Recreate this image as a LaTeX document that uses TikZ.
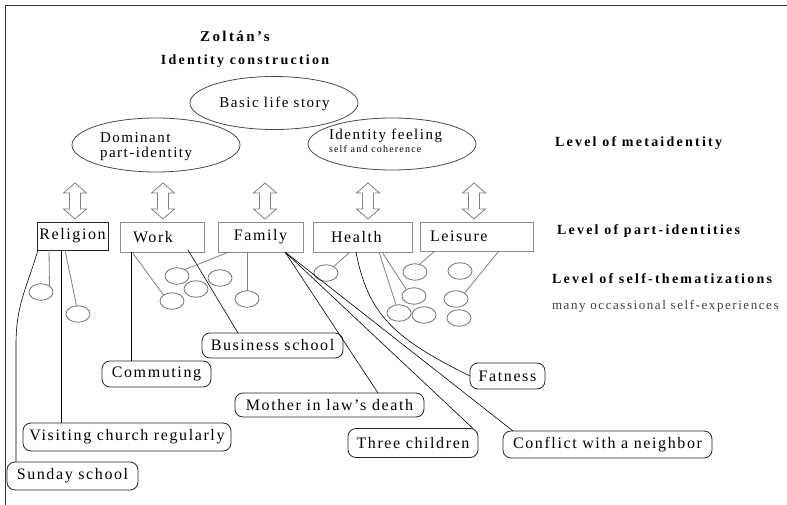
\documentclass[tikz,border=0pt]{standalone}
\usepackage{fontspec}
\setmainfont{Liberation Serif}
% letter-spaced serif faces for labels and headings
\newfontfamily\lblfont[LetterSpace=10]{Liberation Serif}
\newfontfamily\headfont[LetterSpace=16]{Liberation Serif}
\newfontfamily\notefont[LetterSpace=12]{Liberation Serif}
\usetikzlibrary{shapes.geometric}
\begin{document}
\begin{tikzpicture}[x=1pt,y=-1pt,
  every node/.style={inner sep=0pt, outer sep=0pt},
  heading/.style={font=\headfont\bfseries\fontsize{14}{16}\selectfont},
  ellfont/.style={font=\lblfont\fontsize{15}{17}\selectfont},
  metaell/.style={ellipse, draw=black!70, line width=0.8pt,
    minimum width=168pt, minimum height=54pt},
  pbox/.style={rectangle, draw=black!45, line width=0.8pt,
    minimum height=30pt, font=\lblfont\fontsize{16}{18}\selectfont},
  theme/.style={rectangle, rounded corners=8pt, draw=black!85, line width=0.8pt,
    minimum height=26pt, font=\lblfont\fontsize{16}{18}\selectfont},
  selfth/.style={ellipse, draw=black!55, line width=0.8pt,
    minimum width=24pt, minimum height=16.5pt},
  greyline/.style={draw=black!50, line width=0.8pt},
  link/.style={draw=black, line width=0.6pt},
  pics/dblarr/.style={code={
    \draw[draw=black!50, fill=white, line width=0.8pt, line join=miter]
      (0,-18) -- (11.5,-8) -- (5.5,-8) -- (5.5,8) -- (11.5,8) -- (0,18)
      -- (-11.5,8) -- (-5.5,8) -- (-5.5,-8) -- (-11.5,-8) -- cycle;}}
]
\useasboundingbox (0,0) rectangle (787,505);
\fill[white] (0,0) rectangle (787,505);

% frame edges
\draw[black!80, line width=1pt] (5,505) -- (5,6) -- (787,6);

% title
\node[heading, font=\headfont\bfseries\fontsize{15}{17}\selectfont, anchor=base] (ttl1) at (235,42) {Zoltán’s};
\node[heading, anchor=base] (ttl2) at (245,65) {Identity construction};

% level captions
\node[heading, anchor=base west] (lv1) at (555,147) {Level of metaidentity};
\node[heading, anchor=base west] (lv2) at (557,235) {Level of part-identities};
\node[heading, anchor=base west] (lv3) at (552,283) {Level of self-thematizations};
\node[font=\notefont\fontsize{13}{15}\selectfont, text=black!75, anchor=base west] (lv4) at (552,309) {many occassional self-experiences};

% meta-identity ellipses
\node[metaell, minimum height=53pt] (basic) at (274,103) {};
\node[ellfont, anchor=base] (basictxt) at (274.5,108) {Basic life story};
\node[metaell] (dom) at (156,145) {};
\node[ellfont, anchor=base west] (domtxt1) at (100,143) {Dominant};
\node[ellfont, anchor=base west] (domtxt2) at (100,158) {part-identity};
\node[metaell, minimum height=52pt] (idf) at (392,144) {};
\node[ellfont, anchor=base west] (idftxt1) at (329,140) {Identity feeling};
\node[font=\notefont\fontsize{10}{12}\selectfont, anchor=base west] (idftxt2) at (329,153) {self and coherence};

% double arrows between the levels
\pic at (75,201) {dblarr};
\pic at (163,201) {dblarr};
\pic at (265,201) {dblarr};
\pic at (368,201) {dblarr};
\pic at (474,201) {dblarr};

% part-identities
\node[pbox, draw=black!85, minimum width=71pt, minimum height=28pt] (relig) at (72.5,236) {Religion};
\node[pbox, text width=58pt, inner xsep=13pt, align=left] (work) at (162,237) {Work};
\node[pbox, minimum width=85pt] (fam) at (260.5,237) {Family};
\node[pbox, text width=63pt, inner xsep=18pt, align=left] (health) at (362.5,237) {Health};
\node[pbox, text width=93pt, inner xsep=10pt, align=left, minimum height=29pt] (leis) at (476.5,236.5) {Leisure};

% self-thematizations (small ellipses)
\node[selfth] (c1) at (41,292) {};
\node[selfth] (c2) at (78,314) {};
\node[selfth] (c3) at (172,301) {};
\node[selfth] (c4) at (177,276) {};
\node[selfth] (c5) at (196,289) {};
\node[selfth] (c6) at (220,278) {};
\node[selfth] (c7) at (247,299) {};
\node[selfth] (c8) at (326,273) {};
\node[selfth] (c9) at (399,313) {};
\node[selfth] (c10) at (414,296) {};
\node[selfth] (c11) at (424,315) {};
\node[selfth] (c12) at (415,272) {};
\node[selfth] (c13) at (460,271) {};
\node[selfth] (c14) at (456,299) {};
\node[selfth] (c15) at (459,318) {};

% named experiences
\node[theme, minimum width=131pt, minimum height=28pt] (sunday) at (72.5,476) {Sunday school};
\node[theme, minimum width=208pt, minimum height=28pt] (visit) at (127,437) {Visiting church regularly};
\node[theme, minimum width=109pt] (commut) at (156.5,374) {Commuting};
\node[theme, minimum width=141pt, minimum height=25pt] (busin) at (272.5,345.5) {Business school};
\node[theme, minimum width=189pt, minimum height=24pt] (mother) at (329.5,405) {Mother in law’s death};
\node[theme, minimum width=130pt, minimum height=29pt] (three) at (413,443) {Three children};
\node[theme, minimum width=209pt, minimum height=27pt] (conflict) at (607.5,444.5) {Conflict with a neighbor};
\node[theme, minimum width=75pt] (fatness) at (507.5,376) {Fatness};

\coordinate (sbend) at (16,345);

% Religion
\draw[greyline] ([xshift=12pt]relig.south west) -- (c1.north east);
\draw[greyline] ([xshift=28pt]relig.south west) -- (c2.100);
\draw[link] ([xshift=24pt]relig.south west) coordinate (r1) -- (r1 |- visit.north);
\draw[link] ([xshift=1pt]relig.south west) .. controls +(-12,40) and +(0,-40) .. (sbend) -- (sbend |- sunday.north);

% Work
\draw[link] ([xshift=11pt]work.south west) coordinate (w1) -- (w1 |- commut.north);
\draw[greyline] ([xshift=12pt]work.south west) -- (c3.north west);
\draw[link] ([xshift=-16pt,yshift=2pt]work.south east) -- ([xshift=36pt]busin.north west);

% Family
\draw[greyline] ([xshift=11pt]fam.south west) -- (c4.40);
\draw[greyline] (fam.south -| c7.north) -- (c7.north);
\draw[link] ([xshift=-18pt]fam.south east) -- ([xshift=48.5pt]mother.north);
\draw[link] ([xshift=-18pt]fam.south east) -- ([xshift=-5pt]three.north east);
\draw[link] ([xshift=-18pt]fam.south east) -- ([xshift=10pt]conflict.north west);

% Health
\draw[greyline] ([xshift=37pt]health.south west) -- (c8.40);
\draw[link] ([xshift=43pt]health.south west) .. controls +(12,63) and +(-75,-37) .. (fatness.west);
\draw[greyline] ([xshift=66pt]health.south west) -- (c9.110);
\draw[greyline] ([xshift=69pt]health.south west) -- (c10.140);

% Leisure
\draw[greyline] ([xshift=15pt]leis.south west) -- (c12.60);
\draw[greyline] ([xshift=-34pt]leis.south east) -- (c14.north east);
\end{tikzpicture}
\end{document}
